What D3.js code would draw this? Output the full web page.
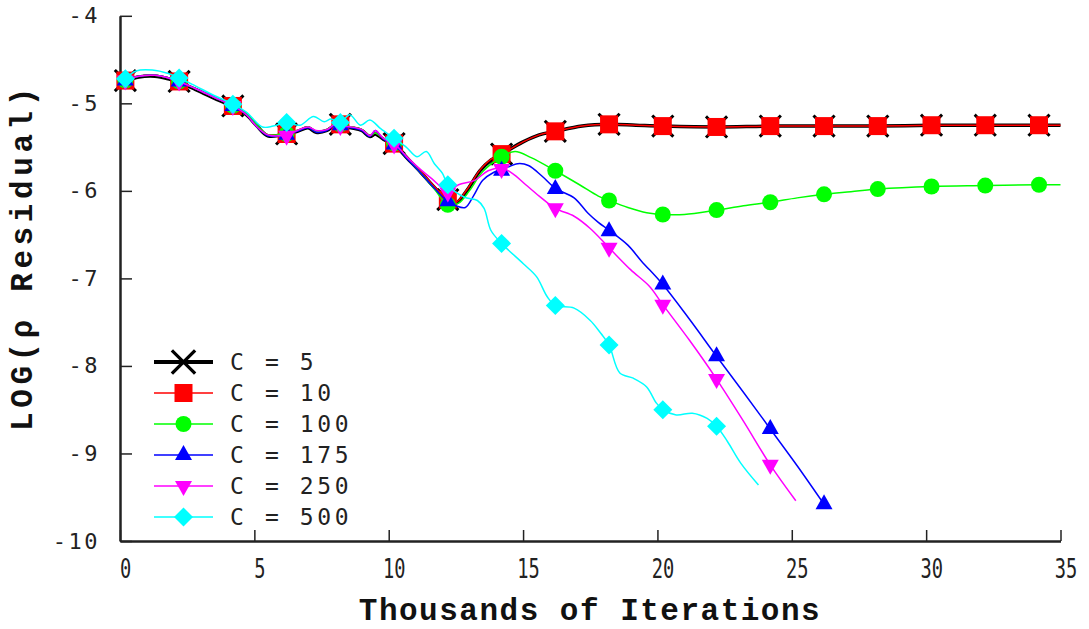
<!DOCTYPE html>
<html>
<head>
<meta charset="utf-8">
<script src="https://cdn.jsdelivr.net/npm/d3@7"></script>
<style>
  body { margin: 0; background: #fff; }
  svg { display: block; }
</style>
</head>
<body>
<div id="chart"></div>
<script>
// tick values and labels
var xTicks = [0, 5, 10, 15, 20, 25, 30, 35];
var xTickLabels = ["0", "5", "10", "15", "20", "25", "30", "35"];
var yTicks = [-4, -5, -6, -7, -8, -9, -10];
var yTickLabels = ["-4", "-5", "-6", "-7", "-8", "-9", "-10"];

var seriesNames = ["C = 5", "C = 10", "C = 100", "C = 175", "C = 250", "C = 500"];

// marker positions (thousands of iterations)
var markerX = [0.2, 2.2, 4.2, 6.2, 8.2, 10.2, 12.2, 14.2, 16.2, 18.2, 20.2, 22.2, 24.2, 26.2, 28.2, 30.2, 32.2, 34.2];

// LOG(rho residual) at the markers
var c5Marks   = [-4.74, -4.75, -5.03, -5.35, -5.24, -5.46, -6.10, -5.58, -5.32, -5.24, -5.26, -5.27, -5.26, -5.26, -5.26, -5.25, -5.25, -5.25];
var c10Marks  = [-4.74, -4.75, -5.03, -5.35, -5.24, -5.46, -6.10, -5.58, -5.32, -5.24, -5.26, -5.27, -5.26, -5.26, -5.26, -5.25, -5.25, -5.25];
var c100Marks = [-4.74, -4.75, -5.03, -5.35, -5.24, -5.46, -6.16, -5.61, -5.77, -6.11, -6.27, -6.22, -6.13, -6.04, -5.98, -5.95, -5.94, -5.93];
var c175Marks = [-4.74, -4.75, -5.03, -5.36, -5.25, -5.47, -6.12, -5.77, -5.98, -6.46, -7.07, -7.89, -8.72, -9.58];
var c250Marks = [-4.74, -4.75, -5.03, -5.37, -5.26, -5.47, -6.02, -5.75, -6.20, -6.65, -7.30, -8.15, -9.13];
var c500Marks = [-4.72, -4.71, -5.01, -5.22, -5.22, -5.40, -5.93, -6.60, -7.31, -7.76, -8.50, -8.69];

// full curves [x, y]
var c5Line = [[0.2,-4.75],[0.7,-4.70],[1.3,-4.69],[1.8,-4.72],[2.2,-4.76],[2.8,-4.84],[3.5,-4.94],[4.2,-5.04],[4.7,-5.13],[5.1,-5.26],[5.5,-5.37],[6.2,-5.35],[6.6,-5.32],[7.0,-5.28],[7.3,-5.33],[7.7,-5.31],[8.0,-5.25],[8.2,-5.26],[8.6,-5.28],[9.0,-5.31],[9.3,-5.38],[9.5,-5.35],[9.8,-5.41],[10.2,-5.47],[10.7,-5.63],[11.2,-5.79],[11.7,-5.96],[12.2,-6.11],[12.5,-6.14],[12.9,-6.00],[13.4,-5.77],[13.8,-5.65],[14.2,-5.58],[15.0,-5.44],[15.6,-5.36],[16.2,-5.32],[17.2,-5.26],[18.2,-5.24],[19.2,-5.25],[20.2,-5.26],[22.2,-5.27],[24.2,-5.26],[26.2,-5.26],[28.2,-5.26],[30.2,-5.25],[32.2,-5.25],[34.2,-5.25],[35.0,-5.25]];
var c10Line = [[0.2,-4.74],[0.7,-4.69],[1.3,-4.68],[1.8,-4.71],[2.2,-4.75],[2.8,-4.83],[3.5,-4.93],[4.2,-5.03],[4.7,-5.12],[5.1,-5.25],[5.5,-5.36],[6.2,-5.34],[6.6,-5.31],[7.0,-5.27],[7.3,-5.32],[7.7,-5.30],[8.0,-5.24],[8.2,-5.25],[8.6,-5.27],[9.0,-5.30],[9.3,-5.37],[9.5,-5.34],[9.8,-5.40],[10.2,-5.46],[10.7,-5.62],[11.2,-5.78],[11.7,-5.95],[12.2,-6.10],[12.5,-6.13],[12.9,-5.99],[13.4,-5.76],[13.8,-5.64],[14.2,-5.58],[15.0,-5.44],[15.6,-5.36],[16.2,-5.32],[17.2,-5.26],[18.2,-5.24],[19.2,-5.25],[20.2,-5.26],[22.2,-5.27],[24.2,-5.26],[26.2,-5.26],[28.2,-5.26],[30.2,-5.25],[32.2,-5.25],[34.2,-5.25],[35.0,-5.25]];
var c100Line = [[0.2,-4.74],[0.7,-4.69],[1.3,-4.68],[1.8,-4.71],[2.2,-4.75],[2.8,-4.83],[3.5,-4.93],[4.2,-5.03],[4.7,-5.12],[5.1,-5.25],[5.5,-5.36],[6.2,-5.34],[6.6,-5.31],[7.0,-5.27],[7.3,-5.32],[7.7,-5.30],[8.0,-5.24],[8.2,-5.25],[8.6,-5.27],[9.0,-5.30],[9.3,-5.37],[9.5,-5.34],[9.8,-5.40],[10.2,-5.46],[10.7,-5.63],[11.2,-5.80],[11.7,-5.98],[12.2,-6.16],[12.6,-6.14],[13.0,-6.00],[13.5,-5.78],[14.2,-5.61],[14.7,-5.55],[15.3,-5.62],[16.2,-5.77],[17.1,-5.93],[17.8,-6.06],[18.2,-6.11],[18.9,-6.19],[19.6,-6.25],[20.2,-6.27],[21.0,-6.27],[22.2,-6.22],[23.2,-6.17],[24.2,-6.13],[25.2,-6.08],[26.2,-6.04],[27.2,-6.01],[28.2,-5.98],[30.2,-5.95],[32.2,-5.94],[34.2,-5.93],[35.0,-5.93]];
var c175Line = [[0.2,-4.74],[0.7,-4.69],[1.3,-4.68],[1.8,-4.71],[2.2,-4.75],[2.8,-4.83],[3.5,-4.93],[4.2,-5.03],[4.7,-5.13],[5.1,-5.27],[5.5,-5.37],[6.2,-5.36],[6.6,-5.32],[7.0,-5.28],[7.3,-5.33],[7.7,-5.31],[8.0,-5.25],[8.2,-5.26],[8.6,-5.28],[9.0,-5.31],[9.3,-5.38],[9.5,-5.31],[9.8,-5.41],[10.2,-5.47],[10.7,-5.64],[11.2,-5.80],[11.7,-5.97],[12.2,-6.12],[12.5,-6.17],[12.85,-6.19],[13.15,-6.06],[13.5,-5.88],[13.9,-5.79],[14.2,-5.76],[14.8,-5.69],[15.2,-5.71],[15.7,-5.83],[16.2,-5.97],[16.9,-6.08],[17.4,-6.25],[17.8,-6.36],[18.2,-6.45],[18.9,-6.62],[19.4,-6.80],[20.2,-7.07],[21.2,-7.47],[22.2,-7.89],[23.2,-8.30],[24.2,-8.72],[25.2,-9.14],[26.2,-9.58]];
var c250Line = [[0.2,-4.74],[0.7,-4.69],[1.3,-4.68],[1.8,-4.71],[2.2,-4.75],[2.8,-4.83],[3.5,-4.93],[4.2,-5.03],[4.7,-5.13],[5.1,-5.27],[5.5,-5.36],[6.2,-5.36],[6.6,-5.31],[7.0,-5.27],[7.3,-5.31],[7.7,-5.30],[8.0,-5.24],[8.2,-5.26],[8.6,-5.27],[9.0,-5.30],[9.3,-5.37],[9.5,-5.31],[9.8,-5.40],[10.2,-5.46],[10.7,-5.62],[11.2,-5.76],[11.6,-5.86],[12.2,-6.00],[12.6,-5.93],[13.2,-5.88],[13.7,-5.77],[14.2,-5.74],[14.6,-5.80],[15.1,-5.93],[15.6,-6.06],[16.2,-6.20],[16.9,-6.29],[17.5,-6.43],[18.2,-6.65],[19.0,-6.90],[19.7,-7.09],[20.2,-7.30],[21.2,-7.71],[22.2,-8.15],[23.2,-8.63],[24.2,-9.13],[25.15,-9.54]];
var c500Line = [[0.2,-4.72],[0.6,-4.63],[1.2,-4.62],[1.8,-4.66],[2.2,-4.71],[2.8,-4.80],[3.5,-4.91],[4.2,-5.01],[4.7,-5.10],[5.3,-5.27],[5.7,-5.26],[6.2,-5.22],[6.7,-5.25],[7.2,-5.15],[7.6,-5.21],[7.85,-5.18],[8.2,-5.22],[8.55,-5.13],[8.95,-5.25],[9.3,-5.19],[9.7,-5.29],[10.2,-5.40],[10.65,-5.50],[11.05,-5.61],[11.4,-5.55],[11.7,-5.69],[12.0,-5.80],[12.2,-5.93],[12.8,-6.07],[13.3,-6.11],[13.55,-6.20],[13.8,-6.45],[14.2,-6.60],[15.0,-6.83],[15.5,-6.98],[15.9,-7.21],[16.2,-7.31],[16.9,-7.34],[17.5,-7.48],[17.9,-7.63],[18.2,-7.76],[18.6,-8.08],[19.1,-8.14],[19.6,-8.24],[19.95,-8.42],[20.2,-8.50],[20.7,-8.56],[21.3,-8.54],[21.85,-8.60],[22.2,-8.69],[22.6,-8.86],[23.1,-9.11],[23.76,-9.36]];

var allLines = [c5Line, c10Line, c100Line, c175Line, c250Line, c500Line];
var allMarks = [c5Marks, c10Marks, c100Marks, c175Marks, c250Marks, c500Marks];
var colors = ["#000000", "#ff0000", "#00ff00", "#0000ff", "#ff00ff", "#00ffff"];
var shapes = ["x", "square", "circle", "up", "down", "diamond"];
var lineWidths = [3.5, 1.5, 1.5, 1.5, 1.5, 1.5];

var width = 1089, height = 629;

var svg = d3.select("#chart").append("svg")
  .attr("width", width)
  .attr("height", height);

var x = d3.scaleLinear().domain([0, 35]).range([120, 1060.5]);
var y = d3.scaleLinear().domain([-10, -4]).range([541, 15.8]);

function markerPath(shape) {
  if (shape === "x") return "M-9.5,-9.5L9.5,9.5M-9.5,9.5L9.5,-9.5";
  if (shape === "square") return "M-9,-9h18v18h-18z";
  if (shape === "circle") return "M8,0A8,8 0 1,1 -8,0A8,8 0 1,1 8,0Z";
  if (shape === "up") return "M0,-10L8.5,5L-8.5,5Z";
  if (shape === "down") return "M0,10L8.5,-5L-8.5,-5Z";
  return "M0,-9.5L9.5,0L0,9.5L-9.5,0Z";
}

function drawMarker(sel, shape, color) {
  var p = sel.append("path").attr("d", markerPath(shape));
  if (shape === "x") {
    p.attr("fill", "none").attr("stroke", color).attr("stroke-width", 3).attr("stroke-linecap", "square");
  } else {
    p.attr("fill", color).attr("stroke", "none");
  }
  return p;
}

// axes
var xAxis = d3.axisBottom(x).tickValues(xTicks).tickSize(-11).tickSizeOuter(0).tickPadding(19)
  .tickFormat(function(d, i) { return xTickLabels[i]; });
var yAxis = d3.axisLeft(y).tickValues(yTicks).tickSize(-12).tickSizeOuter(0).tickPadding(20)
  .tickFormat(function(d, i) { return yTickLabels[i]; });

var gx = svg.append("g").attr("transform", "translate(0,541)").call(xAxis);
var gy = svg.append("g").attr("transform", "translate(120,0)").call(yAxis);

[gx, gy].forEach(function(g) {
  g.select(".domain").attr("stroke", "#222").attr("stroke-width", 2.5);
  g.selectAll(".tick line").attr("stroke", "#222").attr("stroke-width", 1.5);
});

gx.selectAll(".tick text")
  .attr("font-family", "DejaVu Sans Mono")
  .attr("font-size", 26)
  .attr("fill", "#222")
  .attr("x", 7)
  .attr("transform", "scale(0.72,1)");

gy.selectAll(".tick text")
  .attr("font-family", "DejaVu Sans Mono")
  .attr("font-size", 22)
  .attr("letter-spacing", 2.5)
  .attr("fill", "#222");

// axis titles
svg.append("text")
  .attr("x", 590)
  .attr("y", 620)
  .attr("text-anchor", "middle")
  .attr("font-family", "Liberation Mono")
  .attr("font-weight", "bold")
  .attr("font-size", 31)
  .attr("letter-spacing", 1.5)
  .attr("fill", "#111")
  .text("Thousands of Iterations");

svg.append("text")
  .attr("transform", "translate(32,257) rotate(-90)")
  .attr("text-anchor", "middle")
  .attr("font-family", "Liberation Mono")
  .attr("font-weight", "bold")
  .attr("font-size", 31)
  .attr("letter-spacing", 4.6)
  .attr("fill", "#111")
  .text("LOG(\u03c1 Residual)");

// series
var line = d3.line()
  .x(function(d) { return x(d[0]); })
  .y(function(d) { return y(d[1]); })
  .curve(d3.curveCatmullRom.alpha(0.5));

allLines.forEach(function(pts, s) {
  var g = svg.append("g").attr("class", "series");
  g.append("path")
    .attr("d", line(pts))
    .attr("fill", "none")
    .attr("stroke", colors[s])
    .attr("stroke-width", lineWidths[s])
    .attr("stroke-linejoin", "round");

  allMarks[s].forEach(function(v, i) {
    var m = g.append("g").attr("transform", "translate(" + x(markerX[i]) + "," + y(v) + ")");
    drawMarker(m, shapes[s], colors[s]);
  });
});

// legend
var legend = svg.append("g").attr("transform", "translate(154,362)");
seriesNames.forEach(function(name, i) {
  var row = legend.append("g").attr("transform", "translate(0," + (i * 31) + ")");
  row.append("line")
    .attr("x1", 0).attr("x2", 59)
    .attr("stroke", colors[i])
    .attr("stroke-width", i === 0 ? 4 : 1.5);
  var m = row.append("g").attr("transform", "translate(29.5,0)");
  drawMarker(m, shapes[i], colors[i]);
  if (shapes[i] === "x") m.select("path").attr("transform", "scale(1.1)");
  row.append("text")
    .attr("x", 76)
    .attr("dy", "0.36em")
    .attr("font-family", "DejaVu Sans Mono")
    .attr("font-size", 23)
    .attr("letter-spacing", 3.6)
    .attr("fill", "#222")
    .attr("xml:space", "preserve")
    .style("white-space", "pre")
    .text(name);
});
</script>
</body>
</html>
